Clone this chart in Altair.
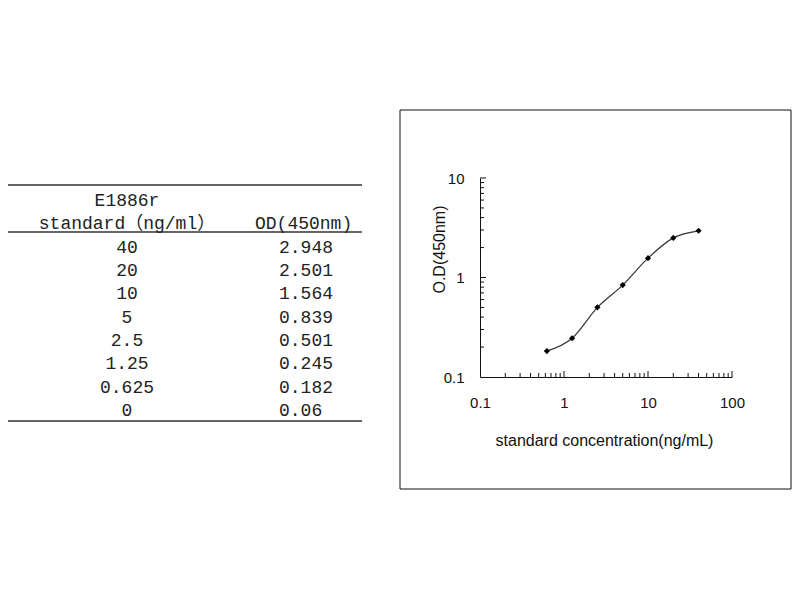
import altair as alt
import pandas as pd

# ---- data ----
conc_labels = ["40", "20", "10", "5", "2.5", "1.25", "0.625", "0"]
od_labels = ["2.948", "2.501", "1.564", "0.839", "0.501", "0.245", "0.182", "0.06"]
conc_values = [40, 20, 10, 5, 2.5, 1.25, 0.625, 0]
od_values = [2.948, 2.501, 1.564, 0.839, 0.501, 0.245, 0.182, 0.06]

header_left = ["E1886r", "standard（ng/ml）"]
header_right = "OD(450nm)"

x_label_values = [0.1, 1, 10, 100]
y_label_values = [0.1, 1, 10]
x_minor_ticks = [0.2, 0.3, 0.4, 0.5, 0.6, 0.7, 0.8, 0.9,
                 2, 3, 4, 5, 6, 7, 8, 9,
                 20, 30, 40, 50, 60, 70, 80, 90]
x_major_ticks = [1, 10, 100]
y_minor_ticks = [0.2, 0.3, 0.4, 0.5, 0.6, 0.7, 0.8, 0.9,
                 2, 3, 4, 5, 6, 7, 8, 9]
y_major_ticks = [1, 10]

table_rule_rows = [-2.69, -0.67, 7.44]

W, H = 252, 199
SANS = "Liberation Sans"
MONO = "Liberation Mono, Noto Sans CJK SC"

# ---- plot ----
plot_df = pd.DataFrame({"conc": conc_values, "od": od_values})
plot_df = plot_df[plot_df["conc"] > 0]

xscale = alt.Scale(type="log", domain=[0.1, 100], nice=False)
yscale = alt.Scale(type="log", domain=[0.1, 10], nice=False)

x_axis = alt.Axis(
    orient="bottom", values=x_label_values, format="~g", ticks=False, tickSize=0,
    grid=False, domainColor="#111", domainWidth=1, labelFlush=False,
    labelOverlap=False, labelBound=False, labelPadding=18, labelFont=SANS,
    labelFontSize=15, labelColor="#111",
    title="standard concentration(ng/mL)", titleFont=SANS, titleFontSize=16,
    titleFontWeight="normal", titleColor="#111", titleX=124, titleY=68,
    titleAlign="center", titleBaseline="alphabetic", titleAnchor="middle",
)
y_axis = alt.Axis(
    orient="left", values=y_label_values, format="~g", ticks=False, tickSize=0,
    grid=False, domainColor="#111", domainWidth=1, labelFlush=False,
    labelOverlap=False, labelBound=False, labelPadding=16, labelFont=SANS,
    labelFontSize=15, labelColor="#111", labelBaseline="middle",
    title="O.D(450nm)", titleFont=SANS, titleFontSize=16,
    titleFontWeight="normal", titleColor="#111", titleX=-36, titleY=71,
    titleAngle=270, titleAlign="center", titleBaseline="alphabetic",
)

base = alt.Chart(plot_df)
line = base.mark_line(interpolate="monotone", color="#333", strokeWidth=1.2).encode(
    x=alt.X("conc:Q", scale=xscale, axis=x_axis),
    y=alt.Y("od:Q", scale=yscale, axis=y_axis),
)
points = base.mark_point(shape="diamond", filled=True, size=38, color="#000", opacity=1).encode(
    x=alt.X("conc:Q", scale=xscale, axis=None),
    y=alt.Y("od:Q", scale=yscale, axis=None),
)

def xticks(vals, length):
    return alt.Chart(pd.DataFrame({"t": vals})).mark_rule(color="#111", strokeWidth=1).encode(
        x=alt.X("t:Q", scale=xscale, axis=None),
        y=alt.value(H),
        y2=alt.value(H - length),
    )

def yticks(vals, length):
    return alt.Chart(pd.DataFrame({"t": vals})).mark_rule(color="#111", strokeWidth=1).encode(
        y=alt.Y("t:Q", scale=yscale, axis=None),
        x=alt.value(0),
        x2=alt.value(length),
    )

# ---- table ----
rowscale = alt.Scale(domain=[-2, 7], range=[23.1, 232.8], nice=False, zero=False)
colscale = alt.Scale(domain=[0, 1], range=[-353, -201], nice=False, zero=False)

left_df = pd.DataFrame({
    "text": header_left + conc_labels,
    "row": [-2, -1] + list(range(len(conc_labels))),
    "col": [0] * (2 + len(conc_labels)),
})
right_df = pd.DataFrame({
    "text": od_labels,
    "row": list(range(len(od_labels))),
    "col": [1] * len(od_labels),
})
right_head_df = pd.DataFrame({"text": [header_right], "row": [-1], "col": [1]})

def text_layer(df, align, dx=0):
    return alt.Chart(df).mark_text(
        font=MONO, fontSize=18, color="#222", align=align, baseline="middle", dx=dx
    ).encode(
        x=alt.X("col:Q", scale=colscale, axis=None),
        y=alt.Y("row:Q", scale=rowscale, axis=None),
        text="text:N",
    )

table_rules = alt.Chart(pd.DataFrame({"r": table_rule_rows})).mark_rule(
    color="#333", strokeWidth=1.5
).encode(
    y=alt.Y("r:Q", scale=rowscale, axis=None),
    x=alt.value(-472),
    x2=alt.value(-118),
)

# ---- frame around the plot panel ----
frame = alt.Chart(pd.DataFrame({"a": [0]})).mark_rect(
    fill="transparent", stroke="#111", strokeWidth=1
).encode(
    x=alt.value(-80), x2=alt.value(311),
    y=alt.value(-68), y2=alt.value(311),
)

chart = alt.layer(
    table_rules,
    text_layer(left_df, "center"),
    text_layer(right_df, "left"),
    text_layer(right_head_df, "left", dx=-24),
    frame,
    line,
    xticks(x_minor_ticks, 4), xticks(x_major_ticks, 6),
    yticks(y_minor_ticks, 4), yticks(y_major_ticks, 6),
    points,
).resolve_scale(
    x="independent", y="independent"
).properties(
    width=W, height=H,
    padding={"left": 472, "top": 170, "right": 60, "bottom": 200},
    autosize=alt.AutoSizeParams(type="none"),
).configure(background="white").configure_view(strokeWidth=0)

chart.save("out.html", embed_options={"renderer": "svg", "actions": False})
